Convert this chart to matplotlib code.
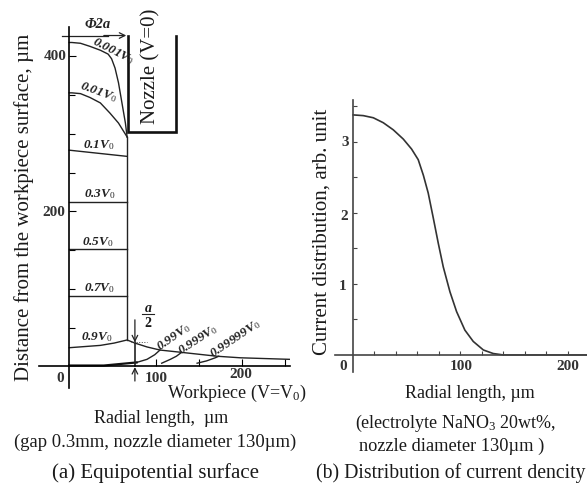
"""
Equipotential surface and current distribution under a nozzle.
"""

import matplotlib

matplotlib.use("Agg")

import matplotlib.pyplot as plt

W, H = 587, 490

# (a) equipotential lines
v001_x = [0, 3, 13, 24, 36, 45, 49, 53, 57, 61, 65, 67]
v001_y = [418, 418, 417, 413, 408, 403, 397, 385, 366, 340, 314, 296]
v01_x = [0, 3, 13, 24, 36, 47, 57, 67]
v01_y = [353, 353, 352, 347, 340, 327, 314, 296]
v1_x = [0, 67]
v1_y = [279, 271]
flat_x = [0, 67]
v3_y = [212, 212]
v5_y = [151, 151]
v7_y = [91, 91]
v9_x = [0, 36, 52, 67, 76, 90, 105, 130, 171, 198, 255]
v9_y = [24, 27, 30, 34, 30, 25, 21, 18, 13, 11, 9]
v99_x = [78, 90, 99, 105]
v99_y = [5, 9, 15, 21]
v999_x = [107, 117, 124, 130]
v999_y = [4, 9, 13, 18]
v99999_x = [148, 159, 169, 173]
v99999_y = [4, 7, 11, 13]
base_x = [0, 40, 78]
base_y = [1, 1, 5]

nozzle_x = [68, 68, 123, 123]
nozzle_y = [427, 302, 302, 427]

# (b) current distribution
radius = [0.3, 9.6, 18.9, 28.2, 37.5, 46.8, 54.5, 60.7, 65.5, 70, 74.7, 79.4,
          84, 90.2, 96.4, 104.1, 111.9, 121.3, 130.5, 139.8, 148.9, 217]
current = [3.38, 3.37, 3.34, 3.27, 3.17, 3.04, 2.90, 2.75, 2.53, 2.28, 1.93,
           1.57, 1.24, 0.89, 0.61, 0.35, 0.19, 0.07, 0.02, 0, 0, 0]

plt.rcParams["font.family"] = ["Liberation Serif"]
plt.rcParams["mathtext.fontset"] = "custom"
plt.rcParams["mathtext.rm"] = "Liberation Serif"
plt.rcParams["mathtext.it"] = "Liberation Serif:italic"


def label(fig, x, y, text, size=13.5, **kw):
    kw.setdefault("ha", "center")
    kw.setdefault("va", "center")
    kw.setdefault("color", "#1a1a1a")
    fig.text(x / W, 1 - y / H, text, fontsize=size, **kw)


def make_axes(fig, left, right, top, bottom):
    ax = fig.add_axes([left / W, 1 - bottom / H, (right - left) / W, (bottom - top) / H])
    ax.patch.set_alpha(0)
    ax.spines["top"].set_visible(False)
    ax.spines["right"].set_visible(False)
    ax.spines["left"].set_position(("data", 0))
    ax.spines["bottom"].set_position(("data", 0))
    return ax


fig = plt.figure(figsize=(W / 100, H / 100), dpi=100)

# left panel
ax = make_axes(fig, 39, 290, 27, 388)
ax.set_xlim(-35, 255.5)
ax.set_ylim(-28, 438)
ax.spines["left"].set_linewidth(1.2)
ax.spines["bottom"].set_linewidth(1.2)
ax.set_xticks([100, 150, 200, 250])
ax.set_yticks([200, 400])
ax.set_yticks([50, 100, 150, 250, 300, 350], minor=True)
ax.set_xticklabels([])
ax.set_yticklabels([])
ax.tick_params(axis="both", which="major", direction="in", length=5, width=0.8)
ax.tick_params(axis="y", which="minor", direction="in", length=4, width=0.8)

line_kw = dict(color="#222222", linewidth=1.0)
ax.plot(v001_x, v001_y, **line_kw)
ax.plot(v01_x, v01_y, **line_kw)
ax.plot(v1_x, v1_y, **line_kw)
ax.plot(flat_x, v3_y, **line_kw)
ax.plot(flat_x, v5_y, **line_kw)
ax.plot(flat_x, v7_y, **line_kw)
ax.plot(v9_x, v9_y, **line_kw)
ax.plot(v99_x, v99_y, **line_kw)
ax.plot(v999_x, v999_y, **line_kw)
ax.plot(v99999_x, v99999_y, **line_kw)
ax.plot(base_x, base_y, color="#111111", linewidth=1.6)
ax.plot([67, 67], [34, 296], **line_kw)
ax.plot(nozzle_x, nozzle_y, color="#111111", linewidth=1.9, solid_joinstyle="miter")

arrow = dict(arrowstyle="->", color="#222222", lw=0.9, shrinkA=0, shrinkB=0)
ax.plot([-8, 45], [427, 427], color="#222222", linewidth=0.9)
ax.annotate("", xy=(66, 427), xytext=(40, 427), arrowprops=arrow)
ax.annotate("", xy=(76, 31), xytext=(76, 60), arrowprops=arrow)
ax.annotate("", xy=(76, -1), xytext=(76, -19), arrowprops=arrow)
ax.plot([76, 76], [1, 31], color="#222222", linewidth=1.2)
ax.plot([72, 90], [31, 31], color="#444444", linewidth=0.7, linestyle=":")
ax.plot([84, 98], [68, 68], color="#222222", linewidth=0.8)

# right panel
bx = make_axes(fig, 335, 587, 100, 372)
bx.set_xlim(-16.7, 217.7)
bx.set_ylim(-0.24, 3.59)
bx.spines["left"].set_color("#444444")
bx.spines["bottom"].set_color("#444444")
bx.spines["left"].set_linewidth(1.2)
bx.spines["bottom"].set_linewidth(1.2)
bx.set_xticks(range(20, 201, 20))
bx.set_yticks([0.5, 1, 1.5, 2, 2.5, 3, 3.5])
bx.set_xticklabels([])
bx.set_yticklabels([])
bx.tick_params(axis="both", direction="in", length=3, width=0.8, color="#444444")
bx.plot(radius, current, color="#333333", linewidth=1.2)

# tick labels
bold = dict(size=11, fontweight="bold", color="#333333")
label(fig, 55, 57, "400", **bold)
label(fig, 54, 212, "200", **bold)
label(fig, 60, 378, "0", **bold)
label(fig, 156, 378, "100", **bold)
label(fig, 241, 375, "200", **bold)
label(fig, 345, 143, "3", **bold)
label(fig, 344, 216, "2", **bold)
label(fig, 343, 286, "1", **bold)
label(fig, 343, 366, "0", **bold)
label(fig, 461, 366, "100", **bold)
label(fig, 568, 366, "200", **bold)

# curve labels
it = dict(size=9.5, style="italic", fontweight="bold", color="#222222")
label(fig, 113, 51, r"0.001V$_0$", rotation=-27, **it)
label(fig, 98, 92, r"0.01V$_0$", rotation=-20, **it)
label(fig, 99, 145, r"0.1V$_0$", **it)
label(fig, 100, 194, r"0.3V$_0$", **it)
label(fig, 98, 242, r"0.5V$_0$", **it)
label(fig, 99, 288, r"0.7V$_0$", **it)
label(fig, 97, 337, r"0.9V$_0$", **it)
label(fig, 174, 337, r"0.99V$_0$", rotation=35, **it)
label(fig, 198, 340, r"0.999V$_0$", rotation=33, **it)
label(fig, 235, 339, r"0.99999V$_0$", rotation=34, **it)
label(fig, 98, 24, "Φ2a", size=10.5, style="italic", fontweight="bold", color="#222222")
label(fig, 148, 308, "a", size=10, style="italic", fontweight="bold")
label(fig, 148, 323, "2", size=10, fontweight="bold")

# text set on top of the scan
label(fig, 24, 207, "Distance from the workpiece surface, µm", size=15, rotation=90)
label(fig, 151, 66, "Nozzle (V=0)", size=15, rotation=90)
label(fig, 322, 232, "Current distribution, arb. unit", size=15, rotation=90)
label(fig, 237, 393, r"Workpiece (V=V$_0$)", size=13)
label(fig, 161, 418, "Radial length,  µm", size=13)
label(fig, 155, 442, "(gap 0.3mm, nozzle diameter 130µm)", size=13.4)
label(fig, 156, 473, "(a) Equipotential surface", size=15)
label(fig, 470, 393, "Radial length, µm", size=13)
label(fig, 456, 423, r"(electrolyte NaNO$_3$ 20wt%,", size=13)
label(fig, 452, 446, "nozzle diameter 130µm )", size=13.2)
label(fig, 451, 473, "(b) Distribution of current dencity", size=14.2)

fig.savefig("out.png", dpi=100)
